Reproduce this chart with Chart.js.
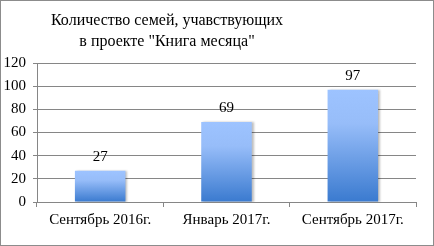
<!DOCTYPE html>
<html>
<head>
<meta charset="utf-8">
<script src="https://cdn.jsdelivr.net/npm/chart.js@4"></script>
<style>
  html, body { margin: 0; padding: 0; background: #fff; }
  #wrap { position: relative; width: 432px; height: 244px; border: 1px solid #8c8c8c; }
  #title {
    position: absolute; left: 0; width: 332px; top: 8px;
    text-align: center; font: 16px 'Liberation Serif', serif; line-height: 21px; color: #000;
  }
  canvas { position: absolute; left: 0; top: 0; }
</style>
</head>
<body>
<div id="wrap">
  <canvas id="chart" width="432" height="244"></canvas>
  <div id="title">Количество семей, учавствующих<br>в проекте "Книга месяца"</div>
</div>
<script>
const categories = ['Сентябрь 2016г.', 'Январь 2017г.', 'Сентябрь 2017г.'];
const families = [27, 69, 97];
const yTicks = [0, 20, 40, 60, 80, 100, 120];

const FONT = 'Liberation Serif';
const GRID = '#868686';

// each bar gets its own light-to-dark blue gradient
function barGradient(ctx) {
  const chart = ctx.chart;
  const area = chart.chartArea;
  const y = chart.scales.y;
  if (!area || !y || ctx.raw == null) return '#6a9be6';
  const top = y.getPixelForValue(ctx.raw);
  const g = chart.ctx.createLinearGradient(0, top, 0, area.bottom);
  g.addColorStop(0, '#9dc3ff');
  g.addColorStop(0.3, '#97bdf9');
  g.addColorStop(1, '#3a7acf');
  return g;
}

// soft shadow on bars
const barShadow = {
  id: 'barShadow',
  beforeDatasetsDraw(chart) {
    const c = chart.ctx;
    c.save();
    c.shadowColor = 'rgba(0,0,0,0.25)';
    c.shadowOffsetX = 2;
    c.shadowOffsetY = 0;
    c.shadowBlur = 2;
  },
  afterDatasetsDraw(chart) {
    chart.ctx.restore();
  }
};

// value labels above bars
const valueLabels = {
  id: 'valueLabels',
  afterDatasetsDraw(chart) {
    const c = chart.ctx;
    const meta = chart.getDatasetMeta(0);
    c.save();
    c.font = `15px ${FONT}`;
    c.fillStyle = '#000';
    c.textAlign = 'center';
    c.textBaseline = 'middle';
    meta.data.forEach((bar, i) => {
      c.fillText(String(families[i]), bar.x, bar.y - 14);
    });
    c.restore();
  }
};

new Chart(document.getElementById('chart'), {
  type: 'bar',
  data: {
    labels: categories,
    datasets: [{
      data: families,
      backgroundColor: barGradient,
      barPercentage: 0.4,
      categoryPercentage: 1,
    }],
  },
  options: {
    responsive: false,
    animation: false,
    events: [],
    layout: { padding: { left: 0, right: 17, top: 62, bottom: 0 } },
    plugins: {
      legend: { display: false },
      tooltip: { enabled: false },
    },
    scales: {
      x: {
        grid: { offset: true, drawOnChartArea: false, color: GRID, tickLength: 5 },
        border: { color: GRID },
        ticks: { color: '#000', font: { family: FONT, size: 15 }, padding: 4 },
        afterFit(scale) { scale.height = 43; },
      },
      y: {
        min: 0,
        max: 120,
        afterBuildTicks(scale) { scale.ticks = yTicks.map(v => ({ value: v })); },
        grid: { color: GRID, tickLength: 4 },
        border: { color: GRID },
        ticks: { color: '#000', font: { family: FONT, size: 15 }, padding: 7 },
        afterFit(scale) { scale.width = 36; },
      },
    },
  },
  plugins: [barShadow, valueLabels],
});
</script>
</body>
</html>
